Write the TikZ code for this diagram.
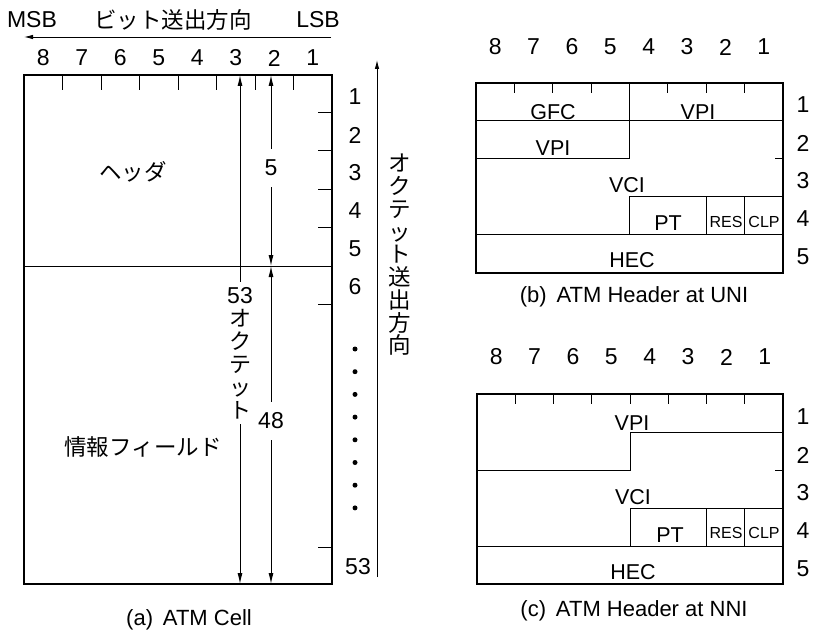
\documentclass[tikz,border=0pt]{standalone}
\usepackage{fontspec}
\setmainfont{Liberation Sans}
\newfontfamily\jpfont{Noto Sans CJK JP}
\usetikzlibrary{arrows.meta,positioning}

\begin{document}
\begin{tikzpicture}[x=1pt, y=-1pt,
  lbl/.style={font=\fontsize{21.5}{23}\selectfont, inner sep=0pt},
  numlbl/.style={font=\fontsize{23}{23}\selectfont, inner sep=0pt},
  caplbl/.style={font=\fontsize{22}{23}\selectfont, inner sep=0pt},
  jp/.style={font=\jpfont\fontsize{22.5}{22.75}\selectfont, inner sep=0pt},
  tinylbl/.style={font=\fontsize{16}{18}\selectfont, inner sep=0pt},
  cellbox/.style={draw=black, line width=1.4pt},
  divline/.style={draw=black, line width=1pt},
  dimarrow/.style={draw=black, line width=1pt, -{Latex[length=11pt,width=5pt]}},
  dirarrow/.style={draw=black, line width=0.9pt, -{Latex[length=9pt,width=4.5pt]}},
  dimlbl/.style={numlbl, inner xsep=2pt, inner ysep=11pt}]
  \useasboundingbox (0,0) rectangle (813,636);

  % (a) ATM cell
  \node[numlbl] (msb) at (32,20) {MSB};
  \node[jp] (bitdir) at (173,20) {ビット送出方向};
  \node[numlbl] (lsb) at (318,20) {LSB};
  \coordinate (bitS) at (331,37);
  \coordinate (bitE) at (24,37);
  \draw[dirarrow] (bitS) -- (bitE);

  \foreach \b [count=\i] in {8,...,1}
    \node[numlbl] (abit\b) at (4.75+38.5*\i,58) {\b};

  \draw[cellbox] (24,75) rectangle (332,584);
  \draw[divline] (24,266) -- (332,266);
  \foreach \k in {1,...,7}
    \draw[divline] (24+38.5*\k,75) -- ++(0,15);
  \foreach \y in {113,151,190,228,304,547}
    \draw[divline] (332,\y) -- ++(-14,0);

  \foreach \r in {1,...,6}
    \node[numlbl] (arow\r) at (355,97+38*\r-38) {\r};
  \node[numlbl] (arow53) at (358,567) {53};
  \foreach \k in {0,...,7}
    \fill (355,349+22.7*\k) circle (2.5pt);

  \node[jp] (hdr) at (133,172) {ヘッダ};
  \node[jp] (info) at (143,447) {情報フィールド};

  % length arrows
  \coordinate (lentop) at (240,75);
  \coordinate (lenbot) at (240,584);
  \node[numlbl, align=center, inner ysep=5pt] (len53) at (240,353)
    {53\\{\jpfont\fontsize{22}{23}\selectfont オ}\\{\jpfont\fontsize{22}{23}\selectfont ク}\\{\jpfont\fontsize{22}{23}\selectfont テ}\\{\jpfont\fontsize{22}{23}\selectfont ッ}\\{\jpfont\fontsize{22}{23}\selectfont ト}};
  \draw[dimarrow] (len53) -- (lentop);
  \draw[dimarrow] (len53) -- (lenbot);

  \coordinate (hdrtop) at (271,75);
  \coordinate (hdrbot) at (271,266);
  \coordinate (infobot) at (271,584);
  \node[dimlbl] (len5) at (271,168) {5};
  \node[dimlbl] (len48) at (271,421) {48};
  \draw[dimarrow] (len5) -- (hdrtop);
  \draw[dimarrow] (len5) -- (hdrbot);
  \draw[dimarrow] (len48) -- (hdrbot);
  \draw[dimarrow] (len48) -- (infobot);

  % octet direction
  \coordinate (octS) at (377,577);
  \coordinate (octE) at (377,60);
  \draw[dirarrow] (octS) -- (octE);
  \node[jp, align=center] (octdir) at (400,255)
    {オ\\ク\\テ\\ッ\\ト\\送\\出\\方\\向};

  \node[caplbl] (capa) at (189,620) {(a)\hspace{0.45em}ATM Cell};

  % (b) header at UNI
  \begin{scope}[shift={(476,83)}]
    \foreach \b [count=\i] in {8,...,1}
      \node[numlbl] (bbit\b) at (38.375*\i-19.2,-36) {\b};
    \foreach \r in {1,...,5}
      \node[numlbl] (brow\r) at (327,38*\r-16) {\r};
    \draw[cellbox] (0,0) rectangle (307,190);
    \foreach \k in {1,2,3,5,6,7}
      \draw[divline] (38.375*\k,0) -- ++(0,10);
    \draw[divline] (0,38) -- (307,38);
    \draw[divline] (0,76) -- (153.5,76) -- (153.5,0);
    \draw[divline] (307,76) -- ++(-8,0);
    \draw[divline] (153.5,152) -- (153.5,114) -- (307,114);
    \draw[divline] (230.25,114) -- (230.25,152);
    \draw[divline] (268.6,114) -- (268.6,152);
    \draw[divline] (0,152) -- (307,152);
    \node[lbl] (bgfc) at (77,29) {GFC};
    \node[lbl] (bvpia) at (222,29) {VPI};
    \node[lbl] (bvpib) at (77,65) {VPI};
    \node[lbl] (bvci) at (151,102) {VCI};
    \node[lbl] (bpt) at (192,140) {PT};
    \node[tinylbl] (bres) at (250,139) {RES};
    \node[tinylbl] (bclp) at (288,139) {CLP};
    \node[lbl] (bhec) at (156,177) {HEC};
    \node[caplbl] (capb) at (158,214) {(b)\hspace{0.45em}ATM Header at UNI};
  \end{scope}

  % (c) header at NNI
  \begin{scope}[shift={(477,394)}]
    \foreach \b [count=\i] in {8,...,1}
      \node[numlbl] (cbit\b) at (38.375*\i-19.2,-37) {\b};
    \foreach \r in {1,...,5}
      \node[numlbl] (crow\r) at (326,38*\r-15) {\r};
    \draw[cellbox] (0,0) rectangle (306,190);
    \foreach \k in {1,...,7}
      \draw[divline] (38.25*\k,0) -- ++(0,10);
    \draw[divline] (306,38) -- (153,38) -- (153,76) -- (0,76);
    \draw[divline] (306,76) -- ++(-8,0);
    \draw[divline] (153,152) -- (153,114) -- (306,114);
    \draw[divline] (229.5,114) -- (229.5,152);
    \draw[divline] (267.8,114) -- (267.8,152);
    \draw[divline] (0,152) -- (306,152);
    \node[lbl] (cvpi) at (155,29) {VPI};
    \node[lbl] (cvci) at (156,103) {VCI};
    \node[lbl] (cpt) at (193,141) {PT};
    \node[tinylbl] (cres) at (249,139) {RES};
    \node[tinylbl] (cclp) at (287,139) {CLP};
    \node[lbl] (chec) at (156,178) {HEC};
    \node[caplbl] (capc) at (157,217) {(c)\hspace{0.45em}ATM Header at NNI};
  \end{scope}
\end{tikzpicture}
\end{document}
